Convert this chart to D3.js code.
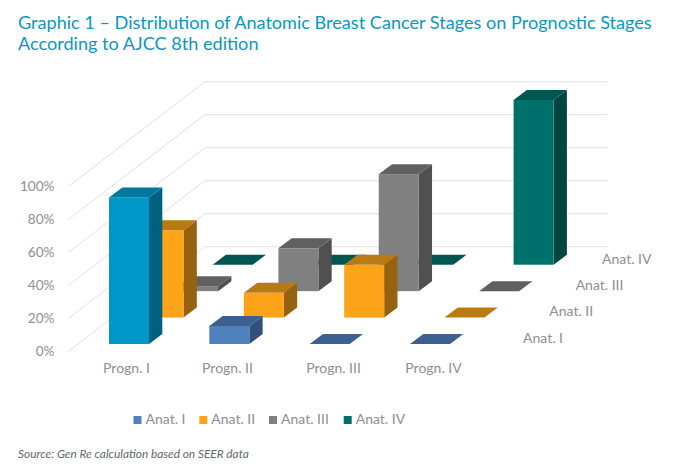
<!DOCTYPE html>
<html><head><meta charset="utf-8">
<script src="https://cdnjs.cloudflare.com/ajax/libs/d3/7.8.5/d3.min.js"></script>
<style>html,body{margin:0;padding:0;background:#fff}svg{display:block}text{font-family:Lato,sans-serif}</style>
</head><body><svg id="c" width="674" height="475"></svg>
<script>
const titleLines=["Graphic 1 – Distribution of Anatomic Breast Cancer Stages on Prognostic Stages","According to AJCC 8th edition"];
const sourceText="Source: Gen Re calculation based on SEER data";
const categories=["Progn. I","Progn. II","Progn. III","Progn. IV"];
const seriesNames=["Anat. I","Anat. II","Anat. III","Anat. IV"];
const anatI=[89,11,0,0];
const anatII=[53,15,32,0];
const anatIII=[3,26,71,0];
const anatIV=[0,0,0,100];
const seriesValues=[anatI,anatII,anatIII,anatIV];
const yTicks=[0,20,40,60,80,100];
const frontColors=["#4f81bd","#fca318","#808080","#00706a"];
const topColors=["#3d608f","#ba7a12","#606060","#005550"];
const sideColors=["#31507a","#976210","#505050","#004542"];
const highlightFront="#0098c8",highlightTop="#00779e",highlightSide="#006080";

const svg=d3.select("#c");
const W=40, DX=13.3, DY=10;
const xBar=d3.scalePoint().domain(categories).range([109,410]);
const xLabel=d3.scaleOrdinal().domain(categories).range([126,227,333,433]);
const zX=d3.scalePoint().domain(seriesNames).range([0,103.6]);
const zY=d3.scalePoint().domain(seriesNames).range([344,264.7]);
const h=d3.scaleLinear().domain([0,100]).range([0,164.7]);
const yAxisScale=d3.scaleLinear().domain([0,100]).range([351.7,186.7]);
const wallDX=137, wallDY=-105, wallRight=607.7;

// title and source
svg.append("g").selectAll("text").data(titleLines).join("text")
 .attr("x",18).attr("y",(d,i)=>29+i*21).attr("fill","#0a97c4").attr("font-size",18.1).text(d=>d);
svg.append("text").attr("x",18).attr("y",458).attr("fill","#5f6870").attr("font-size",11.85).attr("font-style","italic").text(sourceText);

// gridlines: side wall + back wall
const grid=svg.append("g").attr("fill","none").attr("stroke","#e0e0e0").attr("stroke-width",1);
grid.selectAll("path").data(yTicks).join("path")
 .attr("d",t=>{const y=yAxisScale(t);return `M68,${y}L${68+wallDX},${y+wallDY}L${wallRight},${y+wallDY}`});

// axes
const yAxis=d3.axisLeft(yAxisScale).tickValues(yTicks).tickFormat(d=>d+"%").tickSize(0).tickPadding(0);
const yG=svg.append("g").attr("transform","translate(54.5,-1)").call(yAxis);
const xAxis=d3.axisBottom(xLabel).tickSize(0).tickPadding(0);
const xG=svg.append("g").attr("transform","translate(0,363)").call(xAxis);
[yG,xG].forEach(g=>{g.select(".domain").remove();g.selectAll("text").attr("fill","#8f8f8f").attr("font-size",14).attr("font-family","Lato,sans-serif")});
yG.selectAll("text").attr("font-size",13.6);

// bars, back row first
const bars=svg.append("g");
seriesNames.map((n,i)=>i).reverse().forEach(s=>{
 categories.forEach((c,k)=>{
  const v=seriesValues[s][k];
  const x=xBar(c)+zX(seriesNames[s]), y0=zY(seriesNames[s]), y1=y0-h(v);
  const hl=(s===0&&k===0);
  const f=hl?highlightFront:frontColors[s], t=hl?highlightTop:topColors[s], sd=hl?highlightSide:sideColors[s];
  const g=bars.append("g");
  if(v>0){
   g.append("path").attr("fill",sd).attr("d",`M${x+W},${y0}L${x+W+DX},${y0-DY}L${x+W+DX},${y1-DY}L${x+W},${y1}Z`);
   g.append("rect").attr("x",x).attr("y",y1).attr("width",W).attr("height",y0-y1).attr("fill",f);
  }
  g.append("path").attr("fill",t).attr("d",`M${x},${y1}L${x+DX},${y1-DY}L${x+W+DX},${y1-DY}L${x+W},${y1}Z`);
 });
});

// depth axis labels
const zLabX=d3.scalePoint().domain(seriesNames).range([523,602]);
const zLabY=d3.scalePoint().domain(seriesNames).range([337.5,258.5]);
svg.append("g").selectAll("text").data(seriesNames).join("text")
 .attr("x",d=>zLabX(d)).attr("y",d=>zLabY(d)).attr("dy","0.36em")
 .attr("fill","#8f8f8f").attr("font-size",14).text(d=>d);

// legend
const legX=d3.scaleOrdinal().domain(seriesNames).range([133.5,199.3,269,343.7]);
const leg=svg.append("g").selectAll("g").data(seriesNames).join("g").attr("transform",d=>`translate(${legX(d)},416)`);
leg.append("rect").attr("width",8).attr("height",8).attr("fill",(d,i)=>frontColors[i]);
leg.append("text").attr("x",12).attr("y",3.2).attr("dy","0.36em").attr("fill","#8f8f8f").attr("font-size",14).text(d=>d);
</script></body></html>
